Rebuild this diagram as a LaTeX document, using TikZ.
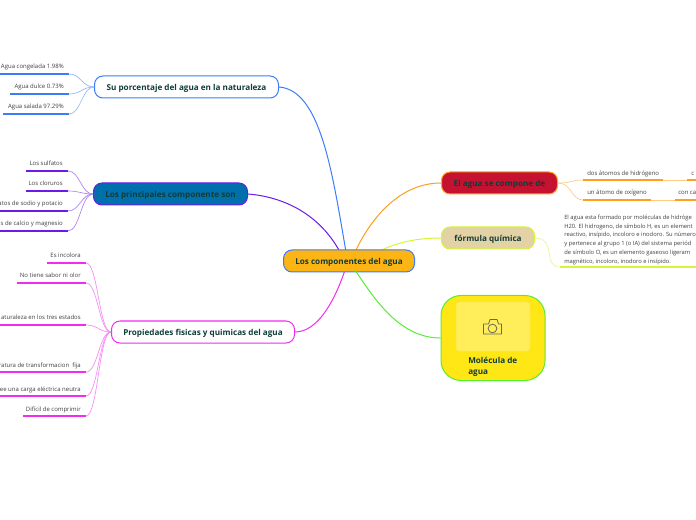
\documentclass[tikz,border=0pt]{standalone}
\usepackage{fontspec}
\setmainfont{Open Sans}
\definecolor{cblue}{HTML}{3B7DF8}
\definecolor{cpurple}{HTML}{6A1BE8}
\definecolor{cmag}{HTML}{F02CF0}
\definecolor{corange}{HTML}{FF9F1C}
\definecolor{cyel}{HTML}{D5F53A}
\definecolor{cgreen}{HTML}{55F030}
\definecolor{ink}{HTML}{0F3D38}
\tikzset{
 branch/.style={draw,rounded corners=8.5pt*0.75,line width=0.75pt,minimum height=16.5pt,font=\fontsize{6.1}{7.5}\selectfont\bfseries,text=ink,inner sep=0pt,anchor=west,text height=5.4pt,text depth=0.8pt},
 leaftext/.style={font=\fontsize{4.5}{6}\selectfont,text=black!75,inner sep=0pt,anchor=base east},
 under/.style={line width=1pt},
 link/.style={line width=0.5pt},
 trunk/.style={line width=0.75pt},
}
% name, colour, x0, x1, underline y, right end of text, text
\newcommand{\leaf}[7]{%
 \coordinate (#1-l) at (#3,#5);
 \coordinate (#1-r) at (#4,#5);
 \node[leaftext] (#1) at (#6,#5-5) {#7};
 \draw[under,#2] (#1-l) -- (#1-r);
}
\newcommand{\lnk}[3]{\draw[link,#1!55] (#2) .. controls +(-12,0) and +(12,0) .. (#3-r);}
\begin{document}
\begin{tikzpicture}[x=0.75pt,y=-0.75pt]
\useasboundingbox (0,0) rectangle (696,520);
\clip (0,0) rectangle (696,520);
\fill[white] (0,0) rectangle (696,520);
% nodes
\node[branch,fill=white,draw=cblue,minimum width=138pt] (por) at (94,87) {Su porcentaje del agua en la naturaleza};
\node[branch,fill={rgb,255:red,0;green,112;blue,173},draw=cpurple,minimum width=115.5pt] (pri) at (93,194) {Los principales componente son};
\node[branch,fill=white,draw=cmag,minimum width=137.25pt] (pro) at (111,332) {Propiedades fisicas y quimicas del agua};
\node[branch,fill={rgb,255:red,196;green,18;blue,48},draw=corange,minimum width=87pt] (ele) at (441,183) {El agua se compone de};
\node[branch,fill={rgb,255:red,227;green,210;blue,165},draw=cyel,minimum width=69.75pt] (for) at (441,238) {fórmula química};
% trunk curves
\coordinate (c1) at (346,252);
\coordinate (c2) at (340,252);
\coordinate (c3) at (345,270);
\coordinate (c4) at (355,252);
\coordinate (c5) at (378,252);
\coordinate (c6) at (355,270);
\draw[trunk,cblue] (por.east) .. controls (320,90) and (332,170) .. (c1);
\draw[trunk,cpurple] (pri.east) .. controls (285,197) and (320,215) .. (c2);
\draw[trunk,cmag] (pro.east) .. controls (318,332) and (335,300) .. (c3);
\draw[trunk,corange] (ele.west) .. controls (405,183) and (375,210) .. (c4);
\draw[trunk,cyel] (for.west) .. controls (415,238) and (395,243) .. (c5);
\node[branch,fill={rgb,255:red,253;green,181;blue,21},draw=cblue,minimum width=98.25pt] (cen) at (283,261) {Los componentes del agua};
% picture node
\node[draw=cgreen,fill={rgb,255:red,255;green,230;blue,21},rounded corners=15pt,line width=0.75pt,minimum width=78pt,minimum height=63.75pt,inner sep=0pt] (mol) at (493,338) {};
\draw[trunk,cgreen] (mol.west) .. controls (400,338) and (375,300) .. (c6);
\node[fill={rgb,255:red,255;green,238;blue,90},draw={rgb,255:red,250;green,230;blue,70},rounded corners=2.5pt,line width=0.4pt,minimum width=55.5pt,minimum height=37pt,inner sep=0pt] (pic) at (493,326.5) {};
\draw[draw=black!60,line width=0.6pt,line join=round] (483.5,324) -- (488.5,324) -- (490,319.5) -- (497,319.5) -- (498.5,324) -- (501.5,324) -- (501.5,334) -- (483.5,334) -- cycle;
\node[draw=black!60,circle,line width=0.6pt,minimum size=6.5pt,inner sep=0pt] (lens) at (492.5,328.5) {};
\node[font=\fontsize{6.1}{8.3}\selectfont\bfseries,text=ink,anchor=north west,inner sep=0pt,align=left] (moltxt) at (468,357) {Molécula de\\agua};
% left leaves
\leaf{a1}{cblue}{0}{69}{74}{64}{Agua congelada 1.98\%}
\leaf{a2}{cblue}{10}{69}{94}{64}{Agua dulce 0.73\%}
\leaf{a3}{cblue}{3}{69}{114}{64}{Agua salada 97.29\%}
\lnk{cblue}{por.west}{a1}\lnk{cblue}{por.west}{a2}\lnk{cblue}{por.west}{a3}
\leaf{b1}{cpurple}{26}{68}{171}{63}{Los sulfatos}
\leaf{b2}{cpurple}{26}{68}{191}{63}{Los cloruros}
\leaf{b3}{cpurple}{0}{68}{211}{63}{atos de sodio y potacio}
\leaf{b4}{cpurple}{0}{68}{231}{63}{s de calcio y magnesio}
\lnk{cpurple}{pri.west}{b1}\lnk{cpurple}{pri.west}{b2}\lnk{cpurple}{pri.west}{b3}\lnk{cpurple}{pri.west}{b4}
\leaf{d1}{cmag}{47}{86}{263}{81}{Es incolora}
\leaf{d2}{cmag}{17}{86}{283}{81}{No tiene sabor ni olor}
\leaf{d3}{cmag}{0}{86}{325}{81}{aturaleza en los tres estados}
\leaf{d4}{cmag}{0}{86}{372}{81}{ratura de transformacion\ \ fija}
\leaf{d5}{cmag}{0}{86}{396}{81}{ee una carga eléctrica neutra}
\leaf{d6}{cmag}{23}{86}{416}{81}{Difícil de comprimir}
\lnk{cmag}{pro.west}{d1}\lnk{cmag}{pro.west}{d2}\lnk{cmag}{pro.west}{d3}\lnk{cmag}{pro.west}{d4}\lnk{cmag}{pro.west}{d5}\lnk{cmag}{pro.west}{d6}
% right leaves
\coordinate (e1l) at (583,180); \coordinate (e1r) at (663,180);
\coordinate (e2l) at (583,200); \coordinate (e2r) at (651,200);
\coordinate (f1l) at (687,180); \coordinate (f1r) at (696,180);
\coordinate (f2l) at (675,200); \coordinate (f2r) at (696,200);
\draw[under,corange] (e1l) -- (e1r); \draw[under,corange] (e2l) -- (e2r);
\draw[under,corange] (f1l) -- (f1r); \draw[under,corange] (f2l) -- (f2r);
\draw[link,corange!55] (e1r) -- (f1l);
\draw[link,corange!55] (e2r) -- (f2l);
\draw[link,corange!55] (ele.east) .. controls +(14,0) and +(-12,0) .. (e1l);
\draw[link,corange!55] (ele.east) .. controls +(14,0) and +(-12,0) .. (e2l);
\node[leaftext,anchor=base west] (e1) at (587,175.5) {dos átomos de hidrógeno};
\node[leaftext,anchor=base west] (e2) at (587,195) {un átomo de oxígeno};
\node[leaftext,anchor=base west] (f1) at (691,175.5) {c};
\node[leaftext,anchor=base west] (f2) at (678,195) {con ca};
\coordinate (gl) at (560,267); \coordinate (gr) at (696,267);
\draw[under,cyel] (gl) -- (gr);
\draw[link,cyel!60] (for.east) .. controls +(22,0) and +(-18,0) .. (gl);
\node[font=\fontsize{4.35}{6.6}\selectfont,text=black!75,anchor=north west,inner sep=0pt,align=left] (par) at (564,214.5) {El agua esta formado por moléculas de hidróge\\H20. El hidrogeno, de símbolo H, es un element\\reactivo, insípido, incoloro e inodoro. Su número\\y pertenece al grupo 1 (o IA) del sistema periód\\de símbolo O, es un elemento gaseoso ligeram\\magnético, incoloro, inodoro e insípido.};
\end{tikzpicture}
\end{document}
